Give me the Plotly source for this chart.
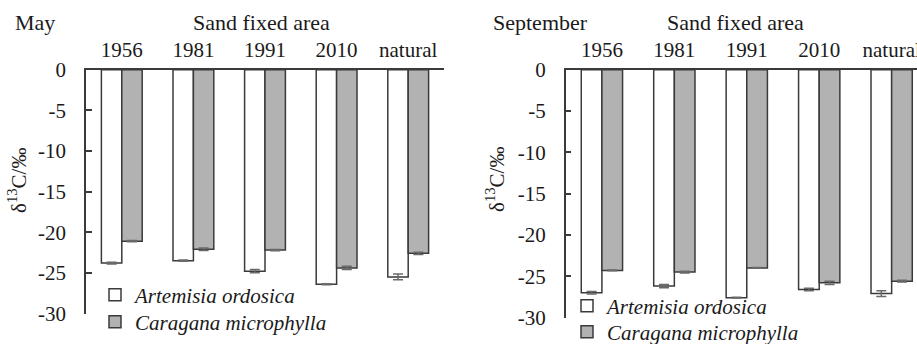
import plotly.graph_objects as go

categories = ["1956", "1981", "1991", "2010", "natural"]
may_artemisia = [-23.8, -23.5, -24.8, -26.4, -25.5]
may_artemisia_err = [0.12, 0.08, 0.2, 0.06, 0.35]
may_caragana = [-21.1, -22.1, -22.2, -24.4, -22.6]
may_caragana_err = [0.08, 0.15, 0.08, 0.2, 0.15]
sep_artemisia = [-27.0, -26.2, -27.6, -26.6, -27.1]
sep_artemisia_err = [0.15, 0.2, 0.05, 0.15, 0.35]
sep_caragana = [-24.3, -24.5, -24.0, -25.8, -25.6]
sep_caragana_err = [0.05, 0.1, 0.05, 0.2, 0.1]
ytick_vals = [0, -5, -10, -15, -20, -25, -30]
ytick_text = ["0", "-5", "-10", "-15", "-20", "-25", "-30"]

W, H = 917, 344
FONT = "Liberation Serif"
TXT = "#1a1a1a"
LINE = "#3a3a3a"
GREY = "#b2b2b2"

def px(x):
    return x / W

def py(y):
    return 1 - y / H

fig = go.Figure()

def add_bars(xa, ya, art, art_err, car, car_err, leg_a, leg_c):
    fig.add_trace(go.Bar(
        x=categories, y=art, name="<i>Artemisia ordosica</i>",
        xaxis=xa, yaxis=ya, legend=leg_a, showlegend=True,
        marker=dict(color="white", line=dict(color=LINE, width=1.5)),
        error_y=dict(type="data", array=art_err, color="#6a6a6a", thickness=1.5, width=5),
    ))
    fig.add_trace(go.Bar(
        x=categories, y=car, name="<i>Caragana microphylla</i>",
        xaxis=xa, yaxis=ya, legend=leg_c, showlegend=True,
        marker=dict(color=GREY, line=dict(color=LINE, width=1.5)),
        error_y=dict(type="data", array=car_err, color="#6a6a6a", thickness=1.5, width=5),
    ))

add_bars("x", "y", may_artemisia, may_artemisia_err, may_caragana, may_caragana_err, "legend", "legend2")
add_bars("x2", "y2", sep_artemisia, sep_artemisia_err, sep_caragana, sep_caragana_err, "legend3", "legend4")

xcommon = dict(type="category", side="top", showline=True, linecolor=LINE, linewidth=1.5,
               showgrid=False, zeroline=False, ticks="", ticklabelstandoff=3, automargin=False,
               tickfont=dict(family=FONT, size=21, color=TXT))
ycommon = dict(range=[-30, 0], showline=True, linecolor=LINE, linewidth=1.5,
               showgrid=False, zeroline=False, ticks="inside", ticklen=6, automargin=False,
               tickcolor=LINE, tickwidth=1.5, tickvals=ytick_vals, ticktext=ytick_text,
               ticklabelstandoff=14, tickfont=dict(family=FONT, size=21, color=TXT))

def leg(x, y):
    return dict(x=px(x), y=py(y), xanchor="left", yanchor="middle",
                bgcolor="rgba(0,0,0,0)", font=dict(family=FONT, size=21, color=TXT),
                itemwidth=30, tracegroupgap=0, borderwidth=0, visible=True)

fig.update_layout(
    template="none",
    showlegend=True,
    width=W, height=H,
    margin=dict(l=0, r=0, t=0, b=0, pad=0, autoexpand=False),
    paper_bgcolor="white", plot_bgcolor="white",
    barmode="group", bargap=0.43, bargroupgap=0,
    xaxis=dict(domain=[px(86), px(444)], anchor="y", range=[-0.5, 4.5], **xcommon),
    yaxis=dict(domain=[py(313.5), py(69.7)], anchor="x", **ycommon),
    xaxis2=dict(domain=[px(565.7), 1.0], anchor="y2", range=[-0.5, 4.35], **xcommon),
    yaxis2=dict(domain=[py(317.5), py(69.7)], anchor="x2", **ycommon),
    legend=leg(95, 295),
    legend2=leg(95, 322),
    legend3=leg(567, 306),
    legend4=leg(567, 332),
    font=dict(family=FONT, color=TXT),
)

annos = [
    ("May", 35, 22, 22, 0),
    ("Sand fixed area", 261, 22, 22, 0),
    ("September", 540, 22, 22, 0),
    ("Sand fixed area", 735, 22, 22, 0),
    ("δ<sup>13</sup>C/‰", 17, 181, 21, -90),
    ("δ<sup>13</sup>C/‰", 495, 180, 21, -90),
]
for text, x, y, size, ang in annos:
    fig.add_annotation(text=text, x=px(x), y=py(y), xref="paper", yref="paper",
                       showarrow=False, xanchor="center", yanchor="middle",
                       textangle=ang, font=dict(family=FONT, size=size, color=TXT))

fig.write_html("out.html")
